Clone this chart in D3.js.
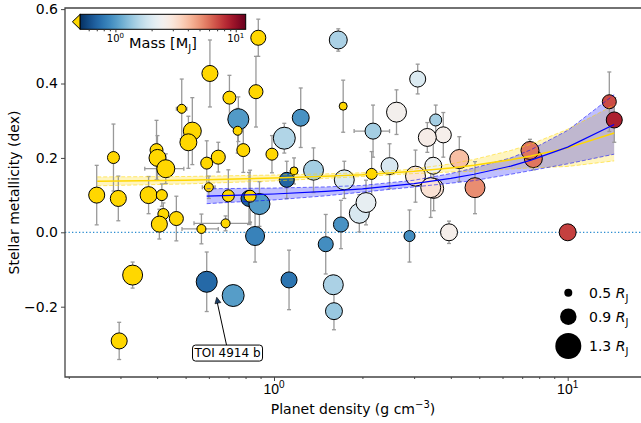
<!DOCTYPE html>
<html><head><meta charset="utf-8">
<script src="https://cdn.jsdelivr.net/npm/d3@7"></script>
<style>
body{margin:0;background:#fff}
svg{display:block;font-family:"DejaVu Sans",sans-serif}
</style>
</head><body>
<svg id="chart" width="641" height="423"></svg>
<script>
// ---------------- data ----------------
// colored planets (mass within colour range) followed by low-mass planets (shown in gold)
const density = [
 0.756,1.233,1.084,1.105,1.363,0.822,0.892,0.862,0.590,0.726,
 1.125,1.50,1.69,1.592,1.60,1.655,3.085,2.613,2.174,1.735,
 2.474,3.032,1.952,2.057,2.893,3.553,3.771,3.327,3.486,4.275,
 3.497,3.417,4.835,7.64,7.44,13.86,14.41,10.0,3.944,
 0.884,0.605,0.868,0.705,0.485,0.752,0.527,0.511,0.786,0.398,
 0.401,0.284,0.590,0.646,0.428,0.984,1.17,0.249,0.295,0.374,
 0.415,0.600,0.699,0.829,0.420,0.407,0.465,0.566,0.684,0.330,
 0.297,1.72,2.15];
const metallicity = [
 0.304,0.308,0.253,0.141,0.167,0.091,0.076,-0.010,-0.133,-0.170,
 -0.128,-0.032,0.021,-0.141,-0.212,0.517,0.412,0.323,0.272,0.141,
 0.178,0.151,0.051,0.080,-0.010,0.302,0.262,0.255,0.179,0.197,
 0.118,0.120,0.120,0.198,0.220,0.351,0.302,0.000,0.000,
 0.523,0.427,0.378,0.362,0.332,0.273,0.272,0.242,0.221,0.221,
 0.200,0.201,0.186,0.202,0.171,0.210,0.165,0.100,0.091,0.100,
 0.100,0.121,0.098,0.097,0.049,0.022,0.037,0.009,0.024,-0.115,
 -0.292,0.339,0.157];
const radiusRJ = [
 1.095,0.92,1.135,0.835,1.05,0.88,1.095,1.01,1.095,1.135,
 0.88,0.835,0.835,1.05,0.92,0.965,0.88,1.05,0.88,1.05,
 0.92,1.05,1.05,1.05,0.65,0.695,0.88,0.965,0.92,1.01,
 1.05,1.05,1.05,0.965,0.965,0.79,0.88,0.92,0.92,
 0.835,0.88,0.79,0.74,0.55,0.55,0.965,0.92,0.74,0.74,
 0.92,0.695,0.695,0.79,0.965,0.695,0.5,0.88,0.88,0.92,
 0.65,0.55,0.695,0.695,0.65,0.88,0.79,0.55,0.55,1.05,
 0.88,0.5,0.65];
const massMJ = [
 1.0,0.95,1.55,0.70,1.45,0.68,1.0,0.85,0.72,1.02,
 0.78,0.92,0.95,1.5,1.38,1.5,2.0,2.55,1.45,2.0,
 1.95,3.0,1.95,2.2,0.92,1.45,2.6,2.7,2.35,4.0,
 3.1,3.1,5.2,5.8,5.8,7.0,8.8,7.4,2.6,
 0.3,0.3,0.3,0.3,0.3,0.3,0.3,0.3,0.3,0.3,
 0.3,0.3,0.3,0.3,0.3,0.3,0.3,0.3,0.3,0.3,
 0.3,0.3,0.3,0.3,0.3,0.3,0.3,0.3,0.3,0.3,
 0.3,0.3,0.3];
const metErr = [
 0.06,0.08,0.04,0.05,0.06,0.07,0.06,0.07,0.08,0.02,
 0.08,0.08,0.065,0.025,0.05,0.03,0.04,0.06,0.07,0.05,
 0.06,0.07,0.05,0.06,0.07,0.04,0.06,0.04,0.06,0.06,
 0.06,0.08,0.07,0.03,0.03,0.08,0.06,0.02,0.03,
 0.05,0.09,0.095,0.06,0.08,0.06,0.09,0.07,0.06,0.08,
 0.06,0.09,0.06,0.04,0.04,0.05,0.035,0.08,0.06,0.05,
 0.03,0.03,0.07,0.07,0.03,0.04,0.06,0.04,0.02,0.035,
 0.05,0.07,0.06];
const densErr = [
 0,0,0,0,0,0,0,0,0.03,0,
 0,0,0,0.06,0,0,0,0,0.3,0,
 0,0,0,0,0.1,0,0,0,0,0,
 0,0,0,0,0,0,0,0,0,
 0,0,0.03,0,0.02,0,0,0,0,0,
 0,0,0,0,0.065,0,0,0,0,0,
 0,0.03,0,0,0,0,0,0.08,0.15,0,
 0,0,0];

// fitted trends with their uncertainty half-widths
const fitDensGold = [0.25,0.5,1,1.5,2,3,4,4.8,6.4,7.5,10,14.4];
const fitGold     = [0.137,0.140,0.146,0.151,0.155,0.164,0.173,0.180,0.195,0.205,0.227,0.267];
const fitGoldHW   = [0.012,0.010,0.008,0.006,0.005,0.006,0.011,0.016,0.025,0.032,0.050,0.075];
const fitDensBlue = [0.59,1,1.5,2,3,4,4.8,6.4,7.5,10,14.4];
const fitBlue     = [0.097,0.103,0.110,0.117,0.131,0.145,0.156,0.178,0.194,0.229,0.290];
const fitBlueHW   = [0.020,0.016,0.012,0.009,0.009,0.013,0.017,0.022,0.028,0.045,0.080];

const xMajor = [1,10];
const xMinor = [0.2,0.3,0.4,0.5,0.6,0.7,0.8,0.9,2,3,4,5,6,7,8,9];
const yTicks = [-0.2,0.0,0.2,0.4,0.6];
const legendR = [0.5,0.9,1.3];
const cbMajor = [1,10];
const cbMinor = [0.6,0.7,0.8,0.9,2,3,4,5,6,7,8,9];
const annotIndex = 8; // TOI 4914 b
const annotText = "TOI 4914 b";

// ---------------- scales ----------------
const svg = d3.select("#chart");
const L=65, R=641, T=8, B=377;
const x = d3.scaleLog().domain([0.1942,17.77]).range([L,R]);
const y = d3.scaleLinear().domain([-0.389,0.603]).range([B,T]);
const rS = d3.scalePow().exponent(1.25).domain([0.5,1.3]).range([4,13]);
const cNorm = d3.scaleLog().domain([0.51,12.1]).range([0,1]);
const gold = "#FFD700";
const colorOf = m => m < 0.51 ? gold : d3.interpolateRdBu(1 - Math.min(1,cNorm(m)));

svg.append("defs").append("clipPath").attr("id","clip")
  .append("rect").attr("x",L).attr("y",T).attr("width",R-L).attr("height",B-T);
const plot = svg.append("g").attr("clip-path","url(#clip)");

// zero line
plot.append("line").attr("x1",L).attr("x2",R).attr("y1",y(0)).attr("y2",y(0))
  .attr("stroke","#2b8cd0").attr("stroke-width",1.2).attr("stroke-dasharray","1.3,2.2");

const bands = [
  {dens:fitDensGold, mid:fitGold, hw:fitGoldHW, col:gold, lw:1.5},
  {dens:fitDensBlue, mid:fitBlue, hw:fitBlueHW, col:"#0000ff", lw:1.2}
].map(b=>({...b, data:b.dens.map((d,i)=>({d,m:b.mid[i],h:b.hw[i]}))}));

// band fills (below points)
bands.forEach(b=>{
  plot.append("path").datum(b.data)
    .attr("d",d3.area().x(o=>x(o.d)).y0(o=>y(o.m-o.h)).y1(o=>y(o.m+o.h)))
    .attr("fill",b.col).attr("fill-opacity",0.25).attr("stroke","none");
});

// points
const pts = density.map((d,i)=>({i,d,m:metallicity[i],r:radiusRJ[i],mass:massMJ[i],e:metErr[i],xe:densErr[i]}));
const eb = plot.append("g").attr("stroke","#999").attr("stroke-width",1.3).attr("fill","none");
pts.forEach(p=>{
  const cx=x(p.d), cy=y(p.m);
  eb.append("line").attr("x1",cx).attr("x2",cx).attr("y1",y(p.m-p.e)).attr("y2",y(p.m+p.e));
  [p.m-p.e,p.m+p.e].forEach(v=>eb.append("line").attr("x1",cx-2).attr("x2",cx+2).attr("y1",y(v)).attr("y2",y(v)));
  if(p.xe>0){
    eb.append("line").attr("y1",cy).attr("y2",cy).attr("x1",x(p.d-p.xe)).attr("x2",x(p.d+p.xe));
    [p.d-p.xe,p.d+p.xe].forEach(v=>eb.append("line").attr("y1",cy-2).attr("y2",cy+2).attr("x1",x(v)).attr("x2",x(v)));
  }
});
plot.append("g").selectAll("circle").data(pts).join("circle")
  .attr("cx",p=>x(p.d)).attr("cy",p=>y(p.m)).attr("r",p=>rS(p.r))
  .attr("fill",p=>colorOf(p.mass)).attr("stroke","#000").attr("stroke-width",1);

// band edges and fit lines (above points)
bands.forEach(b=>{
  [-1,1].forEach(s=>plot.append("path").datum(b.data)
    .attr("d",d3.line().x(o=>x(o.d)).y(o=>y(o.m+s*o.h)))
    .attr("fill","none").attr("stroke",b.col).attr("stroke-opacity",0.55).attr("stroke-width",1).attr("stroke-dasharray","4,2"));
});
bands.forEach(b=>{
  plot.append("path").datum(b.data)
    .attr("d",d3.line().x(o=>x(o.d)).y(o=>y(o.m)))
    .attr("fill","none").attr("stroke",b.col).attr("stroke-width",b.lw);
});

// ---------------- axes ----------------
const axCol = "#444";
const gx = svg.append("g").attr("transform",`translate(0,${B})`);
gx.call(d3.axisBottom(x).tickValues(xMajor).tickSize(4).tickFormat(""));
gx.call(g=>g.append("g").call(d3.axisBottom(x).tickValues(xMinor).tickSize(2).tickFormat("")));
gx.selectAll(".domain").remove();
gx.selectAll("line").attr("stroke",axCol);
xMajor.forEach(v=>{
  const t = gx.append("text").attr("x",x(v)).attr("y",16.5).attr("text-anchor","middle")
    .attr("font-size",14).attr("fill","#000");
  t.append("tspan").text("10");
  t.append("tspan").attr("dy",-6).attr("font-size",10).text(String(Math.round(Math.log10(v))));
});
const gy = svg.append("g").attr("transform",`translate(${L},0)`);
gy.call(d3.axisLeft(y).tickValues(yTicks).tickSize(4).tickPadding(3)
  .tickFormat(v=>d3.format(".1f")(v).replace("-","\u2212")));
gy.selectAll(".domain").remove();
gy.selectAll("line").attr("stroke",axCol);
gy.selectAll("text").attr("font-size",14).attr("font-family","DejaVu Sans").attr("fill","#000");

// spines
svg.append("path").attr("d",`M${R},${T}H${L}V${B}H${R}`).attr("fill","none")
  .attr("stroke",axCol).attr("stroke-width",1.3);

// axis labels
const xl = svg.append("text").attr("x",(L+R)/2).attr("y",414).attr("text-anchor","middle").attr("font-size",14);
xl.append("tspan").text("Planet density (g cm");
xl.append("tspan").attr("dy",-6).attr("font-size",10).text("\u22123");
xl.append("tspan").attr("dy",6).text(")");
svg.append("text").attr("transform",`translate(18.5,${(T+B)/2}) rotate(-90)`)
  .attr("text-anchor","middle").attr("font-size",14).text("Stellar metallicity (dex)");

// ---------------- annotation ----------------
const ap = pts[annotIndex];
const px0 = x(ap.d), py0 = y(ap.m);
const tipX = px0+10, tipY = py0+15.5, boxCx = px0+20.8, boxCy = py0+71.3;
svg.append("line").attr("x1",boxCx-1).attr("y1",boxCy-8).attr("x2",tipX+0.5).attr("y2",tipY+5)
  .attr("stroke","#000").attr("stroke-width",1);
{
  const ang = Math.atan2(tipY-(boxCy-8), tipX-(boxCx-1));
  const hl=6, hw=3;
  const bx = tipX - hl*Math.cos(ang), by = tipY - hl*Math.sin(ang);
  const nx = -Math.sin(ang), ny = Math.cos(ang);
  svg.append("path").attr("d",`M${tipX},${tipY}L${bx+nx*hw},${by+ny*hw}L${bx-nx*hw},${by-ny*hw}Z`)
    .attr("fill","#1d3f66").attr("stroke","#000").attr("stroke-width",0.6);
}
svg.append("rect").attr("x",boxCx-35).attr("y",boxCy-8).attr("width",70).attr("height",16).attr("rx",3)
  .attr("fill","#fff").attr("stroke","#000").attr("stroke-width",1);
svg.append("text").attr("x",boxCx).attr("y",boxCy+4.3).attr("text-anchor","middle").attr("font-size",12).text(annotText);

// ---------------- size legend ----------------
const lg = svg.append("g");
const legY = [292.7,316.7,346];
legendR.forEach((rv,i)=>{
  lg.append("circle").attr("cx",568.3).attr("cy",legY[i]).attr("r",rS(rv)).attr("fill","#000");
  const t = lg.append("text").attr("x",589).attr("y",legY[i]+5).attr("font-size",14);
  t.append("tspan").text(rv.toFixed(1)+" ");
  t.append("tspan").attr("font-style","italic").text("R");
  t.append("tspan").attr("dy",4).attr("font-size",10).text("J");
});

// ---------------- colorbar ----------------
const cbX0=80.2, cbX1=245.7, cbY0=14.3, cbY1=29.3;
const cb = d3.scaleLog().domain(cNorm.domain()).range([cbX0,cbX1]);
const grad = svg.select("defs").append("linearGradient").attr("id","cbg").attr("x1","0").attr("x2","1").attr("y1","0").attr("y2","0");
d3.range(0,1.0001,0.02).forEach(t=>grad.append("stop").attr("offset",t).attr("stop-color",d3.interpolateRdBu(1-t)));
svg.append("path").attr("d",`M${cbX0},${cbY0}L${cbX0-7.8},${(cbY0+cbY1)/2}L${cbX0},${cbY1}Z`)
  .attr("fill",gold).attr("stroke","#000").attr("stroke-width",1);
svg.append("rect").attr("x",cbX0).attr("y",cbY0).attr("width",cbX1-cbX0).attr("height",cbY1-cbY0)
  .attr("fill","url(#cbg)").attr("stroke","#000").attr("stroke-width",1);
const gcb = svg.append("g").attr("transform",`translate(0,${cbY1})`);
gcb.call(d3.axisBottom(cb).tickValues(cbMajor).tickSize(3).tickFormat(""));
gcb.append("g").call(d3.axisBottom(cb).tickValues(cbMinor).tickSize(2).tickFormat(""));
gcb.selectAll(".domain").remove();
gcb.selectAll("line").attr("stroke","#333");
cbMajor.forEach(v=>{
  const t = svg.append("text").attr("x",cb(v)).attr("y",41.7).attr("text-anchor","middle").attr("font-size",10);
  t.append("tspan").text("10");
  t.append("tspan").attr("dy",-4).attr("font-size",7).text(String(Math.round(Math.log10(v))));
});
const ml = svg.append("text").attr("x",(cbX0+cbX1)/2).attr("y",47.7).attr("text-anchor","middle").attr("font-size",14.5);
ml.append("tspan").text("Mass [M");
ml.append("tspan").attr("dy",4).attr("font-size",10).text("J");
ml.append("tspan").attr("dy",-4).text("]");
</script>
</body></html>
